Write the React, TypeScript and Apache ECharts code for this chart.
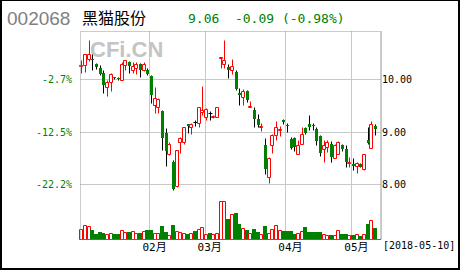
import React, { useEffect, useRef } from "react";
import * as echarts from "echarts";

const STOCK_CODE = "002068";
const STOCK_NAME = "黑猫股份";
const LAST_DATE = "2018-05-10";

// trading days per month (2018), first shown day Jan 5
const MONTH_KEYS = ["01", "02", "03", "04", "05"];
const MONTH_DAYS = [
  [5, 8, 9, 10, 11, 12, 15, 16, 17, 18, 19, 22, 23, 24, 25, 26, 29, 30, 31],
  [1, 2, 5, 6, 7, 8, 9, 12, 13, 14, 22, 23, 26, 27, 28],
  [1, 2, 5, 6, 7, 8, 9, 12, 13, 14, 15, 16, 19, 20, 21, 22, 23, 26, 27, 28, 29, 30],
  [2, 3, 4, 9, 10, 11, 12, 13, 16, 17, 18, 19, 20, 23, 24, 25, 26, 27],
  [2, 3, 4, 7, 8, 9, 10],
];

const OPEN = [
  10.27, 10.27, 10.40, 10.40, 10.29, 10.22, 10.13, 9.86, 9.95, 10.04,
  10.03, 10.00, 10.27, 10.34, 10.19, 10.21, 10.29, 10.19, 10.19, 10.06,
  9.51, 9.47, 9.40, 8.99, 8.59, 8.42, 7.97, 8.81, 8.80, 9.15,
  9.09, 9.20, 9.18, 9.38, 9.28, 9.37, 9.28, 9.29, 10.41, 10.29,
  10.23, 10.18, 10.14, 9.74, 9.66, 9.78, 9.49, 9.42, 9.24, 9.11,
  8.75, 8.14, 8.76, 8.95, 9.04, 9.22, 9.14, 8.86, 8.88, 8.59,
  8.78, 9.07, 9.16, 9.14, 9.05, 8.92, 8.67, 8.72, 8.78, 8.51,
  8.59, 8.75, 8.67, 8.42, 8.39, 8.35, 8.40, 8.29, 8.84, 8.70,
  9.11,
];
const CLOSE = [
  10.28, 10.48, 10.49, 10.38, 10.24, 10.11, 9.89, 9.95, 10.10, 10.02,
  10.01, 10.30, 10.37, 10.25, 10.25, 10.30, 10.18, 10.30, 10.11, 9.70,
  9.64, 9.62, 8.88, 8.64, 8.78, 7.92, 8.65, 8.88, 9.09, 9.12,
  9.16, 9.20, 9.47, 9.41, 9.43, 9.37, 9.30, 9.47, 10.42, 10.37,
  10.19, 10.25, 9.82, 9.70, 9.78, 9.61, 9.50, 9.24, 9.13, 9.12,
  8.30, 8.51, 8.95, 9.10, 9.05, 9.19, 9.12, 8.70, 8.72, 8.75,
  8.97, 8.98, 9.10, 9.12, 8.82, 8.60, 8.75, 8.80, 8.53, 8.76,
  8.80, 8.67, 8.42, 8.43, 8.35, 8.41, 8.34, 8.58, 8.79, 9.15,
  9.06,
];
const LOW = [
  10.13, 10.15, 10.36, 10.19, 10.20, 10.08, 9.75, 9.69, 9.78, 10.01,
  9.99, 9.99, 10.18, 10.12, 10.12, 10.11, 10.05, 10.17, 10.08, 9.55,
  9.36, 9.36, 8.65, 8.35, 8.57, 7.90, 7.95, 8.60, 8.78, 8.99,
  8.97, 9.12, 9.10, 9.33, 9.22, 9.22, 9.26, 9.28, 10.21, 10.21,
  10.02, 10.10, 9.80, 9.51, 9.51, 9.58, 9.47, 9.10, 9.09, 9.02,
  8.20, 8.03, 8.60, 8.84, 8.93, 9.15, 9.00, 8.68, 8.64, 8.58,
  8.77, 8.96, 9.03, 9.03, 8.75, 8.55, 8.43, 8.62, 8.43, 8.50,
  8.58, 8.64, 8.33, 8.33, 8.27, 8.22, 8.33, 8.28, 8.77, 8.69,
  8.94,
];
const HIGH = [
  10.37, 10.49, 10.76, 10.48, 10.31, 10.27, 10.19, 10.00, 10.13, 10.05,
  10.04, 10.33, 10.38, 10.35, 10.33, 10.33, 10.31, 10.33, 10.21, 10.08,
  9.85, 9.64, 9.42, 9.07, 8.81, 8.46, 8.66, 8.90, 9.10, 9.16,
  9.17, 9.22, 9.48, 9.87, 9.45, 9.40, 9.33, 9.48, 10.43, 10.75,
  10.30, 10.40, 10.19, 9.83, 9.81, 9.80, 9.60, 9.47, 9.35, 9.17,
  8.88, 8.53, 8.97, 9.21, 9.11, 9.25, 9.17, 8.90, 8.90, 8.84,
  9.10, 9.10, 9.32, 9.18, 9.10, 8.95, 8.84, 8.84, 8.83, 8.78,
  8.83, 8.78, 8.75, 8.52, 8.50, 8.43, 8.41, 8.59, 9.10, 9.21,
  9.15,
];
const VOLUME = [
  110, 150, 137, 93, 53, 80, 70, 53, 63, 53,
  53, 97, 73, 77, 87, 67, 70, 87, 93, 93,
  63, 63, 133, 77, 43, 147, 87, 73, 63, 60,
  67, 83, 110, 123, 60, 67, 53, 70, 383, 383,
  210, 253, 267, 160, 120, 93, 70, 110, 73, 53,
  133, 70, 110, 143, 93, 83, 83, 83, 53, 67,
  87, 127, 73, 73, 73, 73, 60, 50, 50, 50,
  100, 60, 60, 43, 43, 53, 33, 60, 160, 193,
  120,
];
const PRICE_TICKS = [8, 9, 10];

const RED = "#ff0000";
const GREEN = "#008000";
const BLACK = "#000000";
const GRID_GRAY = "#c8c8c8";

export default function App() {
  const ref = useRef<HTMLDivElement>(null);

  useEffect(() => {
    document.body.style.margin = "0";
    if (!ref.current) return;
    const chart = echarts.init(ref.current, undefined, { renderer: "svg" });

    const categories: string[] = [];
    MONTH_DAYS.forEach((days, m) => {
      days.forEach((d) => categories.push(MONTH_KEYS[m] + "-" + String(d).padStart(2, "0")));
    });
    categories.push(" ");
    const monthStarts = new Set<number>();
    for (let i = 1; i < categories.length - 1; i++) {
      if (categories[i].slice(0, 2) !== categories[i - 1].slice(0, 2)) monthStarts.add(i);
    }

    const base = CLOSE[0];
    const n = CLOSE.length;
    const last = CLOSE[n - 1];
    const prev = CLOSE[n - 2];
    const chg = last - prev;
    const pct = (chg / prev) * 100;
    const quoteText = `${last.toFixed(2)}  ${chg.toFixed(2)} (${pct.toFixed(2)}%)`;

    const candleData = OPEN.map((o, i) => [i, o, CLOSE[i], LOW[i], HIGH[i]]);
    const volData = VOLUME.map((v, i) => [i, v, CLOSE[i] > OPEN[i] ? 1 : 0]);

    const yMin = 8 - 55 / 52.5;
    const yMax = 10 + 48.5 / 52.5;
    const mono = "'DejaVu Sans Mono', monospace";

    chart.setOption({
      animation: false,
      grid: [
        { left: 80, right: 79, top: 31, bottom: 30.5 },
        { left: 80, right: 79, top: 192, bottom: 30.5 },
      ],
      xAxis: [
        {
          type: "category",
          gridIndex: 0,
          data: categories,
          boundaryGap: true,
          axisLine: { show: false },
          axisTick: { show: false },
          axisLabel: { show: false },
          splitLine: {
            show: true,
            interval: (idx: number) => monthStarts.has(idx),
            lineStyle: { color: GRID_GRAY, width: 1 },
          },
        },
        {
          type: "category",
          gridIndex: 1,
          data: categories,
          boundaryGap: true,
          axisLine: { show: false },
          axisTick: { show: false },
          splitLine: { show: false },
          axisLabel: {
            show: true,
            interval: (idx: number) => monthStarts.has(idx),
            formatter: (v: string) => v.slice(0, 2) + "月",
            color: "#000",
            fontSize: 11,
            fontFamily: "'DejaVu Sans Mono', 'Noto Sans CJK SC', monospace",
            margin: 2,
            padding: [0, 0, 0, 6],
          },
        },
      ],
      yAxis: [
        {
          type: "value",
          gridIndex: 0,
          position: "right",
          min: yMin,
          max: yMax,
          axisLine: { show: false },
          axisTick: { show: false, customValues: PRICE_TICKS },
          axisLabel: {
            customValues: PRICE_TICKS,
            formatter: (v: number) => v.toFixed(2),
            color: "#000",
            fontSize: 10,
            fontFamily: mono,
            margin: 1,
          },
          splitLine: { show: true, lineStyle: { color: GRID_GRAY, width: 1 } },
        },
        {
          type: "value",
          gridIndex: 0,
          position: "left",
          min: yMin,
          max: yMax,
          axisLine: { show: false },
          axisTick: { show: false, customValues: PRICE_TICKS },
          axisLabel: {
            customValues: PRICE_TICKS,
            formatter: (v: number) => ((v / base - 1) * 100).toFixed(1) + "%",
            color: GREEN,
            fontSize: 10,
            fontFamily: mono,
            margin: 8,
          },
          splitLine: { show: false },
        },
        {
          type: "value",
          gridIndex: 1,
          min: 0,
          max: 475,
          show: false,
          splitLine: { show: false },
        },
      ],
      graphic: [
        {
          type: "text",
          z: 0,
          left: 90,
          top: 38,
          style: {
            text: "CFi.CN",
            fill: "#c4c4c4",
            font: "bold 22px 'Liberation Sans', Arial, sans-serif",
          },
        },
        {
          type: "text",
          left: 7,
          top: 9,
          style: { text: STOCK_CODE, fill: "#808080", font: "19px 'Liberation Sans', Arial, sans-serif" },
        },
        {
          type: "text",
          left: 82,
          top: 9,
          style: { text: STOCK_NAME, fill: "#000", font: "16px 'Noto Sans CJK SC', sans-serif" },
        },
        {
          type: "text",
          left: 188,
          top: 12,
          style: { text: quoteText, fill: GREEN, font: "13px 'DejaVu Sans Mono', monospace" },
        },
        {
          type: "text",
          left: 383,
          top: 240,
          style: { text: "[" + LAST_DATE + "]", fill: "#000", font: "10px 'DejaVu Sans Mono', monospace" },
        },
        {
          type: "rect",
          z: 10,
          shape: { x: 80.5, y: 31.5, width: 300, height: 208 },
          style: { fill: "none", stroke: "#999999", lineWidth: 1, lineDash: [1, 1] },
        },
        {
          type: "line",
          z: 11,
          shape: { x1: 80, y1: 239.5, x2: 381, y2: 239.5 },
          style: { stroke: "#666666", lineWidth: 1 },
        },
        { type: "line", z: 20, shape: { x1: 1, y1: 0, x2: 1, y2: 270 }, style: { stroke: "#000", lineWidth: 2 } },
        { type: "line", z: 20, shape: { x1: 459, y1: 0, x2: 459, y2: 270 }, style: { stroke: "#000", lineWidth: 2 } },
        { type: "line", z: 20, shape: { x1: 0, y1: 0.5, x2: 460, y2: 0.5 }, style: { stroke: "#000", lineWidth: 1 } },
        { type: "line", z: 20, shape: { x1: 0, y1: 269, x2: 460, y2: 269 }, style: { stroke: "#000", lineWidth: 2 } },
      ],
      series: [
        {
          type: "custom",
          xAxisIndex: 0,
          yAxisIndex: 0,
          z: 5,
          data: candleData,
          encode: { x: 0, y: [1, 2, 3, 4] },
          renderItem: (_params: any, api: any) => {
            const idx = api.value(0);
            const o = api.value(1);
            const c = api.value(2);
            const l = api.value(3);
            const h = api.value(4);
            const pO = api.coord([idx, o]);
            const yC = api.coord([idx, c])[1];
            const yL = api.coord([idx, l])[1];
            const yH = api.coord([idx, h])[1];
            const cx = Math.floor(pO[0]) + 0.5;
            const snap = (y: number) => Math.round(y) + 0.5;
            const up = c > o;
            const down = c < o;
            const children: any[] = [
              {
                type: "line",
                shape: { x1: cx, y1: snap(yH), x2: cx, y2: snap(yL) },
                style: { stroke: up ? RED : BLACK, lineWidth: 1 },
              },
            ];
            if (up) {
              const top = snap(yC);
              const bot = snap(pO[1]);
              children.push({
                type: "rect",
                shape: { x: cx - 2, y: top, width: 3, height: Math.max(bot - top, 1) },
                style: { fill: "#ffffff", stroke: RED, lineWidth: 1 },
              });
            } else if (down) {
              const top = Math.round(pO[1]);
              const bot = Math.round(yC);
              children.push({
                type: "rect",
                shape: { x: cx - 1.5, y: top, width: 3, height: Math.max(bot - top, 1) },
                style: { fill: GREEN },
              });
            } else {
              const y = snap(pO[1]);
              children.push({
                type: "line",
                shape: { x1: cx - 2, y1: y, x2: cx + 2, y2: y },
                style: { stroke: BLACK, lineWidth: 1 },
              });
            }
            return { type: "group", children };
          },
        },
        {
          type: "custom",
          xAxisIndex: 1,
          yAxisIndex: 2,
          z: 5,
          data: volData,
          encode: { x: 0, y: 1 },
          renderItem: (_params: any, api: any) => {
            const idx = api.value(0);
            const v = api.value(1);
            const up = api.value(2) === 1;
            const pTop = api.coord([idx, v]);
            const pBot = api.coord([idx, 0]);
            const cx = Math.floor(pTop[0]) + 0.5;
            if (up) {
              const top = Math.round(pTop[1]) + 0.5;
              const bot = Math.round(pBot[1]) - 0.5;
              return {
                type: "rect",
                shape: { x: cx - 2, y: top, width: 3, height: Math.max(bot - top, 1) },
                style: { fill: "#ffffff", stroke: RED, lineWidth: 1 },
              };
            }
            const top = Math.round(pTop[1]);
            const bot = Math.round(pBot[1]);
            return {
              type: "rect",
              shape: { x: cx - 2.5, y: top, width: 4, height: Math.max(bot - top, 1) },
              style: { fill: GREEN },
            };
          },
        },
      ],
    });

    return () => chart.dispose();
  }, []);

  return <div ref={ref} style={{ width: 460, height: 270 }} />;
}
